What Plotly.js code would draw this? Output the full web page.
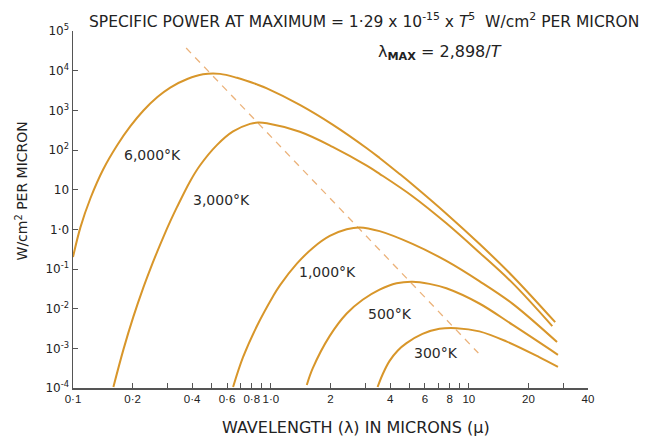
<!DOCTYPE html>
<html>
<head>
<meta charset="utf-8">
<script src="https://cdn.plot.ly/plotly-3.0.1.min.js"></script>
<style>html,body{margin:0;padding:0;background:#fff;}#chart{width:652px;height:442px;}</style>
</head>
<body>
<div id="chart"></div>
<script>
// Wavelength (microns) and specific power (W/cm^2 per micron)
const wl6000  = [0.1, 0.109, 0.1225, 0.142, 0.1675, 0.195, 0.227, 0.267, 0.31, 0.378, 0.454, 0.5535, 0.674, 0.85, 0.954, 1.40, 2.05, 3.05, 3.54, 4.47, 5.19, 7.70, 11.3, 16.6, 27.3];
const val6000 = [0.20, 1.12, 6.08, 32.3, 134, 399, 993, 2163, 3758, 6166, 8100, 8300, 6600, 4508, 3581, 1374, 437, 111, 63.1, 24.9, 13.5, 2.48, 0.432, 0.0668, 0.00456];

const wl3000  = [0.160, 0.1796, 0.2017, 0.2266, 0.2457, 0.2665, 0.2857, 0.3099, 0.3361, 0.3908, 0.4387, 0.5346, 0.6438, 0.784, 0.86, 0.954, 1.40, 2.05, 3.05, 3.54, 5.19, 7.70, 11.3, 16.6, 26.4];
const val3000 = [1.06e-4, 9.14e-4, 6.21e-3, 0.034, 0.0998, 0.275, 0.63, 1.58, 3.73, 16.4, 41.3, 135, 295, 455, 494, 474, 288, 120, 40.3, 25.1, 6.85, 1.42, 0.261, 0.0446, 0.00363];

const wl1000  = [0.644, 0.723, 0.85, 1.024, 1.11, 1.352, 1.628, 1.983, 2.415, 2.808, 3.54, 5.19, 7.70, 11.3, 16.6, 27.9];
const val1000 = [1.06e-4, 5.97e-4, 3.66e-3, 0.0203, 0.0386, 0.136, 0.339, 0.68, 1.0, 1.12, 0.90, 0.429, 0.160, 0.0495, 0.0134, 1.44e-3];

const wl500   = [1.518, 1.628, 1.983, 2.415, 2.907, 3.54, 4.313, 5.193, 6.324, 7.70, 11.3, 16.6, 28.2];
const val500  = [1.19e-4, 3.16e-4, 2.06e-3, 7.57e-3, 0.0168, 0.0303, 0.0438, 0.048, 0.0422, 0.0327, 0.0135, 3.94e-3, 6.87e-4];

const wl300   = [3.459, 3.68, 3.978, 4.378, 4.843, 5.83, 7.10, 8.65, 11.3, 15.45, 22.66, 28.2];
const val300  = [1.06e-4, 2.29e-4, 4.83e-4, 8.83e-4, 1.35e-3, 2.31e-3, 3.10e-3, 3.23e-3, 2.68e-3, 1.50e-3, 6.0e-4, 3.40e-4];

// Locus of maxima (dashed line), end points
const wlMax  = [0.373, 11.17];
const valMax = [3.72e4, 7.6e-4];

const curveLabels = ['6,000°K', '3,000°K', '1,000°K', '500°K', '300°K'];

const xTickVals  = [0.1, 0.2, 0.4, 0.6, 0.8, 1, 2, 4, 6, 8, 10, 20, 40];
const xTickText  = ['0·1', '0·2', '0·4', '0·6', '0·8', '1·0', '2', '4', '6', '8', '10', '20', '40'];
const xMinorVals = [0.3, 0.5, 0.7, 0.9, 3, 5, 7, 9, 30];
const yTickVals = [1e-4, 1e-3, 1e-2, 1e-1, 1, 10, 100, 1e3, 1e4, 1e5];
const yTickText = ['10<sup>-4</sup>', '10<sup>-3</sup>', '10<sup>-2</sup>', '10<sup>-1</sup>', '1·0', '10', '10<sup>2</sup>', '10<sup>3</sup>', '10<sup>4</sup>', '10<sup>5</sup>'];

const curveColor = '#d8962a';
const FONT = 'DejaVu Sans, Liberation Sans, sans-serif';

function curve(x, y) {
  return {x: x, y: y, type: 'scatter', mode: 'lines',
          line: {color: curveColor, width: 2, shape: 'spline', smoothing: 1},
          hoverinfo: 'skip', showlegend: false};
}

const data = [
  {x: wlMax, y: valMax, type: 'scatter', mode: 'lines',
   line: {color: '#ebb27a', width: 1.3, dash: '7px,6px'}, showlegend: false, hoverinfo: 'skip'},
  curve(wl6000, val6000),
  curve(wl3000, val3000),
  curve(wl1000, val1000),
  curve(wl500, val500),
  curve(wl300, val300)
];

const labelPos = [[0.1534, 0.6527], [0.2893, 0.5266], [0.4951, 0.3249], [0.6155, 0.2073], [0.7049, 0.0980]];
const annotations = curveLabels.map((t, i) => ({
  text: t, xref: 'paper', yref: 'paper', x: labelPos[i][0], y: labelPos[i][1],
  xanchor: 'center', yanchor: 'middle', showarrow: false,
  font: {family: FONT, size: 14, color: '#2a2a2a'}
}));
annotations.push({
  text: 'SPECIFIC POWER AT MAXIMUM = 1·29 x 10<sup>-15</sup> x <i>T</i><sup>5</sup>  W/cm<sup>2</sup> PER MICRON',
  xref: 'paper', yref: 'paper', x: 0.566, y: 1.03, xanchor: 'center', yanchor: 'middle',
  showarrow: false, font: {family: FONT, size: 15.5, color: '#222'}
});
annotations.push({
  text: 'λ<sub><b>MAX</b></sub> = 2,898/<i>T</i>',
  xref: 'paper', yref: 'paper', x: 0.713, y: 0.941, xanchor: 'center', yanchor: 'middle',
  showarrow: false, font: {family: FONT, size: 16, color: '#222'}
});
annotations.push({
  text: 'W/cm<sup>2</sup> PER MICRON', textangle: -90,
  xref: 'paper', yref: 'paper', x: -0.1, y: 0.552, xanchor: 'center', yanchor: 'middle',
  showarrow: false, font: {family: FONT, size: 14, color: '#222'}
});
annotations.push({
  text: 'WAVELENGTH (λ) IN MICRONS (μ)',
  xref: 'paper', yref: 'paper', x: 0.5495, y: -0.112, xanchor: 'center', yanchor: 'middle',
  showarrow: false, font: {family: FONT, size: 16, color: '#222'}
});

const layout = {
  width: 652, height: 442,
  margin: {l: 73, r: 64, t: 31, b: 54},
  paper_bgcolor: '#fff', plot_bgcolor: '#fff',
  showlegend: false,
  xaxis: {type: 'log', range: [-1, Math.log10(40)], tickmode: 'array',
          tickvals: xTickVals, ticktext: xTickText, tickangle: 0,
          ticks: 'inside', ticklen: 5, tickcolor: '#555',
          minor: {tickmode: 'array', tickvals: xMinorVals, ticks: 'inside', ticklen: 5, tickcolor: '#555', showgrid: false},
          showline: true, linecolor: '#555', linewidth: 1.5,
          showgrid: false, zeroline: false,
          tickfont: {family: 'Liberation Sans, Arial, sans-serif', size: 11.5, color: '#222'}},
  yaxis: {type: 'log', range: [-4, 5], tickmode: 'array',
          tickvals: yTickVals, ticktext: yTickText, ticks: 'inside', ticklen: 5,
          tickcolor: '#555', showline: true, linecolor: '#555', linewidth: 1.5,
          showgrid: false, zeroline: false,
          tickfont: {family: FONT, size: 12, color: '#222'}},
  annotations: annotations
};

Plotly.newPlot('chart', data, layout, {displayModeBar: false, staticPlot: true});
</script>
</body>
</html>
